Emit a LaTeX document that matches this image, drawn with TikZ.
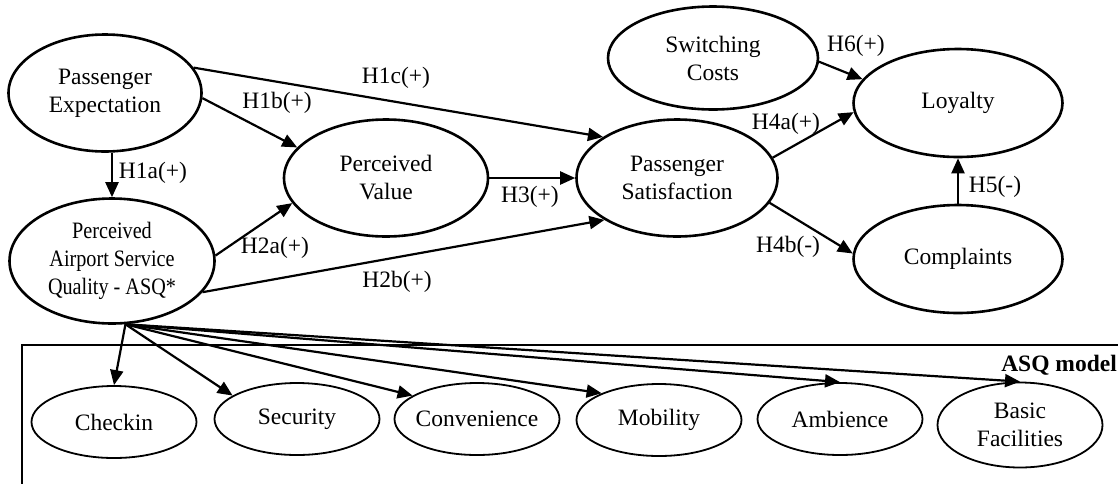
\documentclass[tikz,border=0pt]{standalone}
\usepackage{fontspec}
\setmainfont{Liberation Serif}
\usepackage{graphicx}
\usepackage{tikz}
\usetikzlibrary{arrows.meta,shapes.geometric}

\newcommand{\narrowtxt}[1]{\scalebox{0.86}[1]{#1}}

\begin{document}
\begin{tikzpicture}[x=1pt, y=-1pt, every node/.style={font=\fontsize{23.5}{28}\selectfont},
  construct/.style={ellipse, draw, line width=2.6pt, inner sep=0pt, align=center},
  dimension/.style={ellipse, draw, line width=1.8pt, inner sep=-5pt, align=center,
    minimum width=165pt, minimum height=72pt},
  link/.style={-{Triangle[length=15pt,width=13pt]}, line width=2.2pt}]

\useasboundingbox (0,0) rectangle (1118,483);

% Constructs
\node[construct, minimum width=193pt, minimum height=117pt] (pe) at (105,93) {Passenger\\Expectation};
\node[construct, minimum width=205pt, minimum height=125pt] (asq) at (112,261)
  {\narrowtxt{Perceived}\\\narrowtxt{Airport Service}\\\narrowtxt{Quality - ASQ*}};
\node[construct, minimum width=204pt, minimum height=117pt] (pv) at (386,178) {Perceived\\Value};
\node[construct, minimum width=201pt, minimum height=117pt] (ps) at (677,178) {Passenger\\Satisfaction};
\node[construct, minimum width=210pt, minimum height=103pt] (sc) at (713,58) {Switching\\Costs};
\node[construct, minimum width=209pt, minimum height=108pt] (loy) at (958,103) {Loyalty};
\node[construct, minimum width=209pt, minimum height=108pt] (comp) at (958,259) {Complaints};

% Hypotheses
\draw[link] (pe.south -| asq.north) -- (asq.north);
\node (h1a) at (153,173) {H1a(+)};
\draw[link] (pe.-3) -- (pv.161);
\node (h1b) at (277,103) {H1b(+)};
\draw[link] (pe.16) -- (ps.151);
\node (h1c) at (396,78) {H1c(+)};
\draw[link] (asq.3) -- (pv.195);
\node (h2a) at (275,248) {H2a(+)};
\draw[link] (asq.-19) -- (ps.210);
\node (h2b) at (397,282) {H2b(+)};
\draw[link] (pv.east) -- (ps.west);
\node (h3) at (530,197) {H3(+)};
\draw[link] (ps.12) -- (loy.185);
\node (h4a) at (786,124) {H4a(+)};
\draw[link] (ps.-15) -- (comp.177);
\node (h4b) at (788,247) {H4b(-)};
\draw[link] (comp.north) -- (loy.south);
\node (h5) at (995,187) {H5(-)};
\draw[link] (sc.-2) -- (loy.166);
\node (h6) at (856,46) {H6(+)};

% ASQ model box
\draw[line width=1.5pt] (1125,345) -| (22,490);
\node[font=\bfseries\fontsize{23.5}{28}\selectfont, anchor=base east, inner sep=0pt] (asqmodel) at (1117,371) {ASQ model};

% ASQ dimensions
\node[dimension] (chk) at (114,422) {Checkin};
\node[dimension] (sec) at (297,419) {Security};
\node[dimension] (conv) at (477,419) {Convenience};
\node[dimension] (mob) at (659,420) {Mobility};
\node[dimension] (amb) at (840,419) {Ambience};
\node[dimension, minimum height=85pt] (bas) at (1020,425) {Basic\\Facilities};

\coordinate (fan) at (asq.-78);
\draw[link] (fan) -- (chk.north);
\draw[link] (fan) -- (sec.160);
\draw[link] (fan) -- (conv.160);
\draw[link] (fan) -- (mob.155);
\draw[link] (fan) -- (amb.north);
\draw[link] (fan) -- (bas.north);

\end{tikzpicture}
\end{document}
